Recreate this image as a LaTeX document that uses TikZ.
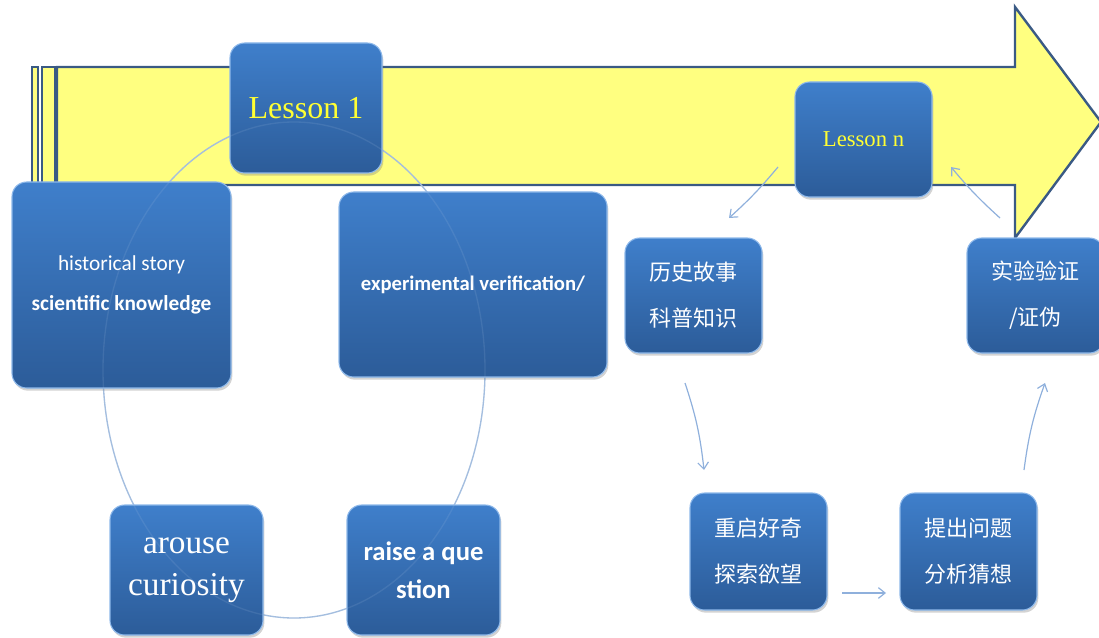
\documentclass[tikz,border=0pt]{standalone}
\usepackage{fontspec}
\setmainfont{Liberation Serif}
\newfontfamily\calfont{Carlito}
\newfontfamily\cjkfont{Noto Sans CJK SC}
\usetikzlibrary{arrows.meta,shadows}
\definecolor{boxtop}{HTML}{3F7FCB}
\definecolor{boxbot}{HTML}{2C5C99}
\definecolor{boxedge}{HTML}{8DB8EA}
\definecolor{lessonyellow}{HTML}{FFFF33}
\definecolor{arrowfill}{HTML}{FFFF80}
\definecolor{arrowline}{HTML}{3A5A84}
\definecolor{flowblue}{HTML}{8FB0DC}
\definecolor{ringblue}{HTML}{A4BEDF}

\begin{document}
\begin{tikzpicture}[
        x=0.75pt, y=-0.75pt,
        stage/.style={rectangle, rounded corners=11pt, draw=boxedge, line width=0.8pt, top color=boxtop, bottom color=boxbot, text=white, inner sep=0pt, align=center, drop shadow={opacity=0.35, shadow xshift=1pt, shadow yshift=-2pt}},
        lesson/.style={stage, text=lessonyellow},
        cnstage/.style={stage, minimum width=102.75pt, minimum height=86.25pt, font=\cjkfont\fontsize{16.5}{34.5}\selectfont},
        bigarrow/.style={draw=arrowline, fill=arrowfill, line width=1.8pt, line join=miter},
        ring/.style={draw=ringblue, line width=1pt},
        flow/.style={draw=flowblue, line width=0.9pt, -{Straight Barb[length=5pt,width=8pt]}}
    ]
        \useasboundingbox (0,0) rectangle (1099,638);

        % the long yellow arrow
        \draw [bigarrow] (32,67) rectangle (38,185);
        \draw [bigarrow] (42,67) rectangle (55,185);
        \draw [bigarrow] (57,67) -- (1015,67) -- (1015,7) -- (1101,122) -- (1015,238) -- (1015,185) -- (57,185) -- cycle;

        % lesson 1 cycle
        \draw [ring] (294,370) ellipse [x radius=143.25pt, y radius=186pt];

        \node [lesson, minimum width=114pt, minimum height=97.5pt, font=\fontsize{24}{28}\selectfont] (les1) at (306,108) {Lesson 1};
        \node [stage, minimum width=164.25pt, minimum height=154.5pt, font=\calfont\fontsize{16}{30}\selectfont] (story) at (121.5,285) {historical story\\\textbf{scientific knowledge}};
        \node [stage, minimum width=201pt, minimum height=138.75pt, font=\calfont\bfseries\fontsize{15.5}{20}\selectfont] (verify) at (473,284.5) {experimental verification/};
        \node [stage, minimum width=114.75pt, minimum height=97.5pt, font=\fontsize{25}{31.5}\selectfont] (arouse) at (186.5,570) {arouse\\curiosity};
        \node [stage, minimum width=114.75pt, minimum height=97.5pt, font=\calfont\bfseries\fontsize{20}{28.5}\selectfont] (raise) at (423.5,570) {raise a que\\stion};

        \draw [ring, opacity=0.15] (294,370) ellipse [x radius=143.25pt, y radius=186pt];

        % lesson n cycle
        \node [lesson, minimum width=102.75pt, minimum height=86.25pt, font=\fontsize{17}{20}\selectfont] (lesN) at (863.5,139.5) {Lesson n};
        \node [cnstage] (lishi) at (693.5,295.5) {历史故事\\科普知识};
        \node [cnstage] (shiyan) at (1035.5,295.5) {实验验证\\/证伪};
        \node [cnstage, minimum height=87.75pt] (chongqi) at (758.5,551.5) {重启好奇\\探索欲望};
        \node [cnstage, minimum height=87.75pt] (tichu) at (968.5,551.5) {提出问题\\分析猜想};

        \coordinate (nOut) at (778,167);
        \coordinate (lishiIn) at (729,218);
        \coordinate (lishiOut) at (685,383);
        \coordinate (chongqiIn) at (704,470);
        \coordinate (chongqiOut) at (842,593);
        \coordinate (tichuIn) at (886,593);
        \coordinate (tichuOut) at (1024,470);
        \coordinate (shiyanIn) at (1045,383);
        \coordinate (shiyanOut) at (1000,218);
        \coordinate (nIn) at (951,167);

        \draw [flow] (nOut) to[bend left=4] (lishiIn);
        \draw [flow] (lishiOut) to[bend left=6] (chongqiIn);
        \draw [flow] (chongqiOut) -- (tichuIn);
        \draw [flow] (tichuOut) to[bend left=6] (shiyanIn);
        \draw [flow] (shiyanOut) to[bend left=4] (nIn);
    \end{tikzpicture}
\end{document}
